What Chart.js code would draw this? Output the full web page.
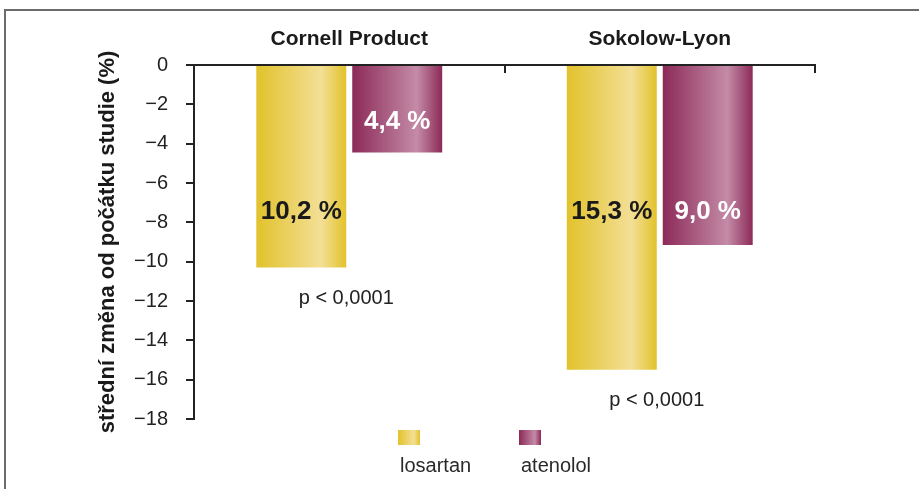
<!DOCTYPE html>
<html>
<head>
<meta charset="utf-8">
<script src="https://cdn.jsdelivr.net/npm/chart.js@4.4.0/dist/chart.umd.min.js"></script>
<style>
  body { margin: 0; background: #fff; }
  #wrap { width: 919px; height: 489px; }
</style>
</head>
<body>
<div id="wrap"><canvas id="myChart"></canvas></div>
<script>
  const categories = ['Cornell Product', 'Sokolow-Lyon']
  const losartan = [-10.3, -15.5]
  const atenolol = [-4.45, -9.15]
  const losartan_labels = ['10,2 %', '15,3 %']
  const atenolol_labels = ['4,4 %', '9,0 %']
  const p_values = ['p < 0,0001', 'p < 0,0001']
  const y_min = -18
  const y_max = 0
  const y_step = 2

  const FONT = "'Liberation Sans', Arial, Helvetica, sans-serif"

  function make_gradient(ctx, x0, x1, base, light) {
    let g = ctx.createLinearGradient(x0, 0, x1, 0)
    g.addColorStop(0, base)
    g.addColorStop(0.72, light)
    g.addColorStop(1, base)
    return g
  }

  const bar_colors = [['#e2c22b', '#f3df96'], ['#8c2a58', '#c48ba7']]
  const label_colors = ['#1a1a1a', '#ffffff']

  const decor = {
    id: 'decor',
    beforeDraw(chart) {
      const ctx = chart.ctx
      ctx.save()
      ctx.strokeStyle = '#6b6b6b'
      ctx.lineWidth = 2
      ctx.beginPath()
      ctx.moveTo(5, chart.height)
      ctx.lineTo(5, 10)
      ctx.lineTo(chart.width, 10)
      ctx.stroke()
      ctx.restore()
    },
    beforeDatasetsDraw(chart) {
      chart.data.datasets.forEach((ds, i) => {
        chart.getDatasetMeta(i).data.forEach(el => {
          const w = el.width
          const g = make_gradient(chart.ctx, el.x - w / 2, el.x + w / 2, bar_colors[i][0], bar_colors[i][1])
          el.options = Object.assign({}, el.options, { backgroundColor: g })
        })
      })
    },
    afterDatasetsDraw(chart) {
      const ctx = chart.ctx
      const y = chart.scales.y
      const x = chart.scales.x
      ctx.save()
      // value labels inside bars
      const all_labels = [losartan_labels, atenolol_labels]
      chart.data.datasets.forEach((ds, i) => {
        chart.getDatasetMeta(i).data.forEach((el, j) => {
          const v = ds.data[j]
          const pos = Math.abs(v) > 6 ? -7.45 : v * 0.65
          ctx.font = 'bold 26px ' + FONT
          ctx.fillStyle = label_colors[i]
          ctx.textAlign = 'center'
          ctx.textBaseline = 'middle'
          ctx.fillText(all_labels[i][j], el.x, y.getPixelForValue(pos))
        })
      })
      // p values
      ctx.font = '20px ' + FONT
      ctx.fillStyle = '#222'
      categories.forEach((c, j) => {
        ctx.fillText(p_values[j], x.getPixelForValue(j) - 3, y.getPixelForValue(losartan[j]) + 31)
      })
      // small ticks between categories
      const half = (x.getPixelForValue(1) - x.getPixelForValue(0)) / 2
      ctx.strokeStyle = '#222'
      ctx.lineWidth = 2
      categories.forEach((c, j) => {
        const px = Math.round(x.getPixelForValue(j) + half)
        ctx.beginPath()
        ctx.moveTo(px, chart.chartArea.top)
        ctx.lineTo(px, chart.chartArea.top + 8)
        ctx.stroke()
      })
      ctx.restore()
    },
    afterDraw(chart) {
      const ctx = chart.ctx
      ctx.save()
      const x0 = chart.chartArea.left + 204
      chart.data.datasets.forEach((ds, i) => {
        const bx = x0 + i * 121
        ctx.fillStyle = make_gradient(ctx, bx, bx + 22, bar_colors[i][0], bar_colors[i][1])
        ctx.fillRect(bx, 430, 22, 15)
        ctx.font = '20px ' + FONT
        ctx.fillStyle = '#2a2a2a'
        ctx.textAlign = 'left'
        ctx.textBaseline = 'middle'
        ctx.fillText(ds.label, bx + 2, 466)
      })
      ctx.restore()
    }
  }

  const config = {
    type: 'bar',
    data: {
      labels: categories,
      datasets: [
        { label: 'losartan', data: losartan, backgroundColor: bar_colors[0][0], categoryPercentage: 0.618, barPercentage: 0.9375 },
        { label: 'atenolol', data: atenolol, backgroundColor: bar_colors[1][0], categoryPercentage: 0.618, barPercentage: 0.9375 },
      ]
    },
    options: {
      responsive: true,
      maintainAspectRatio: false,
      animation: false,
      layout: { padding: { left: 0, top: 0, right: 104, bottom: 70 } },
      plugins: {
        legend: { display: false },
        tooltip: { enabled: false },
      },
      scales: {
        x: {
          position: 'top',
          grid: { display: true, drawOnChartArea: false, drawTicks: false },
          border: { display: true, color: '#222', width: 2 },
          ticks: { font: { family: FONT, size: 21, weight: 'bold' }, color: '#1a1a1a', padding: 13 },
          afterFit: s => { s.height = 65 }
        },
        y: {
          min: y_min,
          max: y_max,
          ticks: {
            stepSize: y_step,
            font: { family: FONT, size: 20 },
            color: '#222',
            padding: 18,
            callback: v => v === 0 ? '0' : '\u2212' + Math.abs(v)
          },
          grid: { drawOnChartArea: false, drawTicks: true, tickLength: 8, color: '#222', lineWidth: 2 },
          border: { display: true, color: '#222', width: 2 },
          title: {
            display: true,
            text: 'střední změna od počátku studie (%)',
            font: { family: FONT, size: 22, weight: 'bold' },
            color: '#1a1a1a',
            padding: { top: 95, bottom: 0 }
          },
          afterFit: s => { s.width = 194 }
        }
      }
    },
    plugins: [decor]
  }

  const myChart = new Chart(document.getElementById('myChart'), config)
</script>
</body>
</html>
